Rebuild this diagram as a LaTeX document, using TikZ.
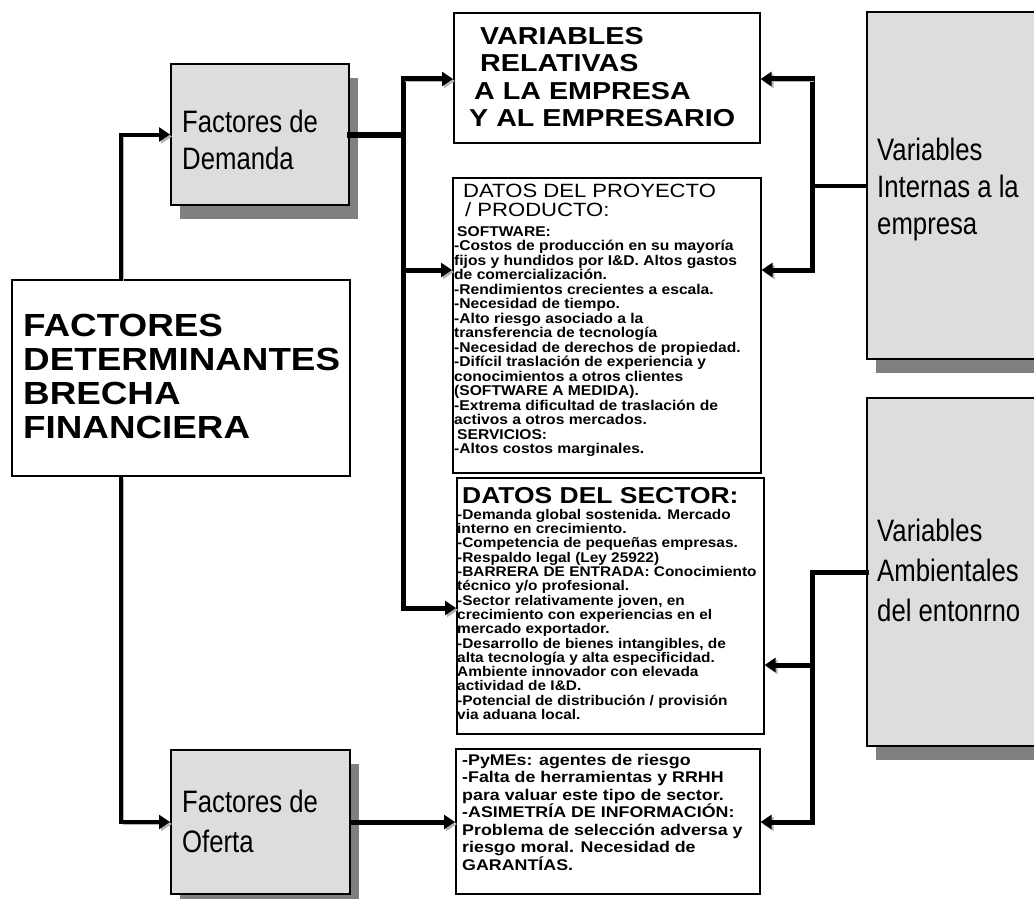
\documentclass[tikz,border=0pt]{standalone}
\usepackage{fontspec}
\setmainfont{Liberation Sans}
\newfontfamily\widefont[FakeStretch=1.15]{Liberation Sans}
\newfontfamily\slimwidefont[FakeStretch=1.1]{Liberation Sans}
\newfontfamily\headfont[FakeStretch=1.17]{Liberation Sans}
\newfontfamily\narrowfont[FakeStretch=0.83]{Liberation Sans}
\usetikzlibrary{arrows.meta,shadows}
\definecolor{boxgrey}{HTML}{DDDDDD}
\definecolor{shadowgrey}{HTML}{808080}
\definecolor{halo}{HTML}{B4B4B4}
\begin{document}
\begin{tikzpicture}[x=1pt,y=-1pt,
  whitebox/.style={draw=black, line width=1.6pt, fill=white, anchor=north west, inner sep=0pt},
  greybox/.style={draw=black, line width=2pt, fill=boxgrey, anchor=north west, inner sep=0pt,
    drop shadow={shadow xshift=9pt, shadow yshift=-14pt, fill=shadowgrey, opacity=1}},
  txt/.style={anchor=north west, align=left, inner sep=0pt},
  conn/.style={line width=5pt, line cap=rect, line join=miter,
    preaction={draw=halo, transform canvas={shift={(2pt,-2pt)}}}},
  tip/.style={-{Triangle[length=11pt,width=14pt]}},
  bigbold/.style={font=\widefont\bfseries\fontsize{32}{34}\selectfont},
  headbold/.style={font=\headfont\bfseries\fontsize{24.5}{27.5}\selectfont},
  narrowtxt/.style={font=\narrowfont\fontsize{31}{37}\selectfont},
  smallbold/.style={font=\slimwidefont\bfseries\fontsize{14.2}{14.5}\selectfont},
]
\useasboundingbox (0,0) rectangle (1034,899);
\clip (0,0) rectangle (1034,899);
\fill[white] (0,0) rectangle (1034,899);

% junction points of the connector trunks
\coordinate (dTop) at (403,79);
\coordinate (dMid) at (403,270);
\coordinate (dBot) at (403,608);
\coordinate (iTop) at (812,79);
\coordinate (iBot) at (812,270);
\coordinate (aMid) at (812,665);
\coordinate (aBot) at (812,822);
\coordinate (lx) at (121,0);

% boxes (placed first so that connectors can refer to them)
\node[greybox, minimum width=178pt, minimum height=141pt] (dem) at (170,63) {};
\node[greybox, minimum width=179pt, minimum height=144pt] (ofe) at (170,749) {};
\node[whitebox, minimum width=338pt, minimum height=196pt] (main) at (11,279) {};
\node[whitebox, minimum width=306pt, minimum height=130pt] (relbox) at (453,12) {};
\node[whitebox, minimum width=308pt, minimum height=295pt] (proy) at (452,177) {};
\node[whitebox, minimum width=307pt, minimum height=256pt] (sect) at (456,477) {};
\node[whitebox, minimum width=304pt, minimum height=145pt] (last) at (455,748) {};
\node[greybox, minimum width=190pt, minimum height=347pt] (int) at (866,11) {};
\node[greybox, minimum width=190pt, minimum height=348pt] (amb) at (866,397) {};

% connectors
\draw[conn, line width=4pt, tip] (main.north -| lx) |- (dem.west);
\draw[conn, line width=4pt, tip] (main.south -| lx) |- (ofe.west);
\draw[conn, line width=6pt] (dem.east) -- (dem.east -| dTop);
\draw[conn] (dTop) -- (dBot);
\draw[conn, tip] (dTop) -- (relbox.west |- dTop);
\draw[conn, tip] (dMid) -- (proy.west |- dMid);
\draw[conn, tip] (dBot) -- (sect.west |- dBot);
\draw[conn, tip] (ofe.east) -- (last.west |- ofe.east);
\draw[conn, line width=4pt] (int.west) -- (int.west -| iTop);
\draw[conn] (iTop) -- (iBot);
\draw[conn, tip] (iTop) -- (relbox.east |- iTop);
\draw[conn, tip] (iBot) -- (proy.east |- iBot);
\draw[conn] (amb.west) -| (aBot);
\draw[conn, tip] (aMid) -- (sect.east |- aMid);
\draw[conn, tip] (aBot) -- (last.east |- aBot);

% texts
\node[txt, bigbold] (tmain) at (23,314) {FACTORES\\DETERMINANTES\\BRECHA\\FINANCIERA};
\node[txt, narrowtxt] (tdem) at (182,110) {Factores de\\Demanda};
\node[txt, narrowtxt, font=\narrowfont\fontsize{31}{40}\selectfont] (tofe) at (182,790) {Factores de\\Oferta};
\node[txt, narrowtxt] (tint) at (877,138) {Variables\\Internas a la\\empresa};
\node[txt, narrowtxt, font=\narrowfont\fontsize{31}{40}\selectfont] (tamb) at (877,519) {Variables\\Ambientales\\del entonrno};
\node[txt, headbold] (trel) at (469,27) {\hspace*{11pt}VARIABLES\\\hspace*{11pt}RELATIVAS\\\hspace*{5pt}A LA EMPRESA\\Y AL EMPRESARIO};
\node[txt, font=\widefont\fontsize{19.2}{19}\selectfont] (tproyh) at (463,184) {DATOS DEL PROYECTO\\\hspace*{2pt}/ PRODUCTO:};
\node[txt, smallbold] (tproy) at (454,226) {\hspace*{3pt}SOFTWARE:\\
-Costos de producción en su mayoría\\
fijos y hundidos por I\&D. Altos gastos\\
de comercialización.\\
-Rendimientos crecientes a escala.\\
-Necesidad de tiempo.\\
-Alto riesgo asociado a la\\
transferencia de tecnología\\
-Necesidad de derechos de propiedad.\\
-Difícil traslación de experiencia y\\
conocimientos a otros clientes\\
(SOFTWARE A MEDIDA).\\
-Extrema dificultad de traslación de\\
activos a otros mercados.\\
\hspace*{3pt}SERVICIOS:\\
-Altos costos marginales.};
\node[txt, font=\widefont\bfseries\fontsize{23}{24}\selectfont] (tsecth) at (462,487) {DATOS DEL SECTOR:};
\node[txt, smallbold, font=\slimwidefont\bfseries\fontsize{14}{14.3}\selectfont] (tsect) at (457,509) {-Demanda global sostenida. Mercado\\
interno en crecimiento.\\
-Competencia de pequeñas empresas.\\
-Respaldo legal (Ley 25922)\\
-BARRERA DE ENTRADA: Conocimiento\\
técnico y/o profesional.\\
-Sector relativamente joven, en\\
crecimiento con experiencias en el\\
mercado exportador.\\
-Desarrollo de bienes intangibles, de\\
alta tecnología y alta especificidad.\\
Ambiente innovador con elevada\\
actividad de I\&D.\\
-Potencial de distribución / provisión\\
via aduana local.};
\node[txt, font=\widefont\bfseries\fontsize{15.5}{17.5}\selectfont] (tlast) at (462,754) {-PyMEs: agentes de riesgo\\
-Falta de herramientas y RRHH\\
para valuar este tipo de sector.\\
-ASIMETRÍA DE INFORMACIÓN:\\
Problema de selección adversa y\\
riesgo moral. Necesidad de\\
GARANTÍAS.};
\end{tikzpicture}
\end{document}
